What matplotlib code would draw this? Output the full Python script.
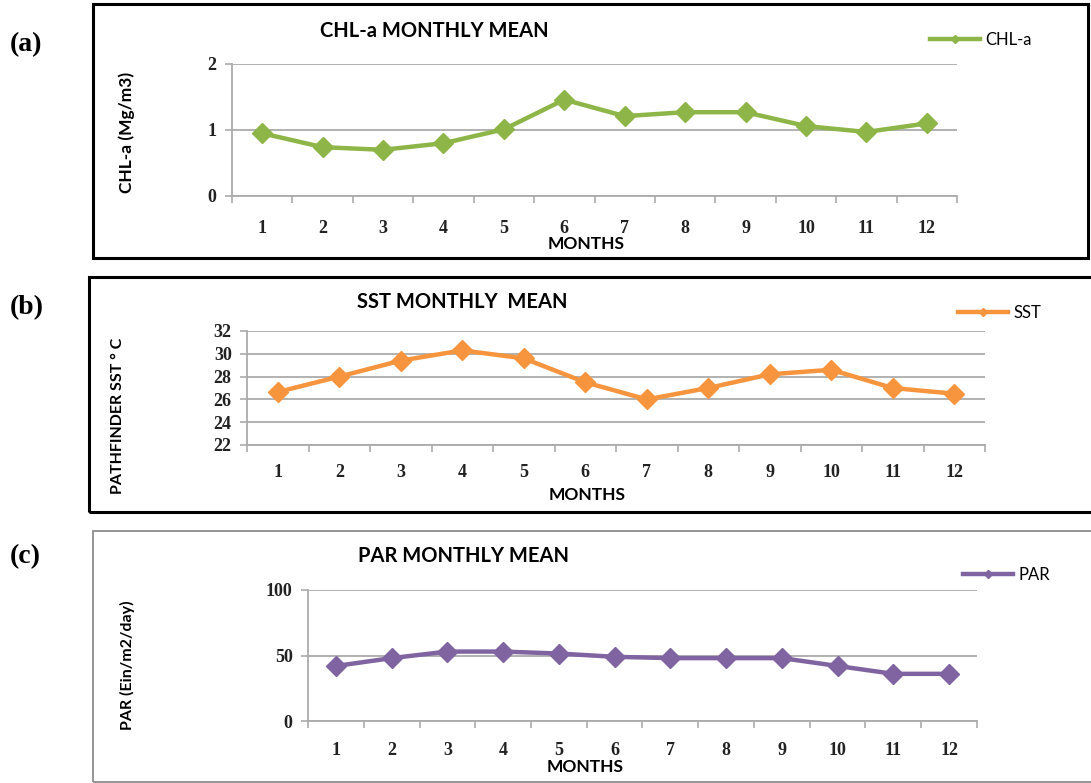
import matplotlib
matplotlib.use('Agg')
import matplotlib.pyplot as plt
from matplotlib.patches import Rectangle

# Data bulanan
months = [1, 2, 3, 4, 5, 6, 7, 8, 9, 10, 11, 12]
chl_a = [0.95, 0.74, 0.70, 0.80, 1.01, 1.46, 1.21, 1.27, 1.27, 1.06, 0.97, 1.10]
sst = [26.65, 28.0, 29.4, 30.3, 29.6, 27.5, 26.0, 27.0, 28.2, 28.6, 27.0, 26.5]
par = [42, 48, 53, 53, 51.5, 49, 48, 48, 48, 42, 36, 36]

W, H = 1091, 783
fig = plt.figure(figsize=(W / 100, H / 100), dpi=100)

SANS = 'Lato'
SERIF = 'Liberation Serif'
GRID = '#ababab'


def box(left, top, right, bottom):
    # koordinat piksel -> pecahan figure
    return [left / W, 1 - bottom / H, (right - left) / W, (bottom - top) / H]


def fx(x):
    return x / W


def fy(y):
    return 1 - y / H


def panel(rect, values, color, label, yticks, ylim, tick_pad):
    ax = fig.add_axes(box(*rect))
    ax.plot(months, values, color=color, lw=3.2, marker='D', ms=10,
            mec=color, mfc=color, label=label)
    ax.set_xlim(0.5, 12.5)
    ax.set_ylim(*ylim)
    ax.set_yticks(yticks)
    ax.set_xticks(months)
    ax.set_xticks([m + 0.5 for m in [0] + months], minor=True)
    ax.tick_params(axis='x', which='major', length=0, pad=tick_pad)
    ax.tick_params(axis='x', which='minor', length=5, color=GRID, width=1.2)
    ax.tick_params(axis='y', length=5, color=GRID, width=1.2, pad=6)
    for t in ax.get_xticklabels() + ax.get_yticklabels():
        t.set_fontfamily(SERIF)
        t.set_fontweight('bold')
        t.set_fontsize(13)
        t.set_color('#222222')
    ax.grid(axis='y', color=GRID, lw=1.3)
    ax.set_axisbelow(True)
    for s in ['top', 'right']:
        ax.spines[s].set_visible(False)
    for s in ['left', 'bottom']:
        ax.spines[s].set_color(GRID)
        ax.spines[s].set_linewidth(1.3)
    return ax


def legend(ax, x, y):
    ax.legend(loc='center left', bbox_to_anchor=(fx(x), fy(y)),
              bbox_transform=fig.transFigure, frameon=False,
              handlelength=3.0, handletextpad=0.3, markerscale=0.45,
              prop={'family': SANS, 'size': 12}, borderpad=0, borderaxespad=0)


# (a) CHL-a
ax1 = panel((232, 64, 957, 196), chl_a, '#8db548', 'CHL-a', [0, 1, 2], (0, 2), 17)
legend(ax1, 930, 40)
fig.text(fx(434), fy(31), 'CHL-a MONTHLY MEAN', ha='center', va='center',
         family=SANS, weight='bold', size=14.5)
fig.text(fx(127), fy(132), 'CHL-a (Mg/m3)', rotation=90, ha='center', va='center',
         family=SANS, weight='bold', size=12.5)
fig.text(fx(586), fy(244), 'MONTHS', ha='center', va='center',
         family=SANS, weight='bold', size=12.5)

# (b) SST
ax2 = panel((247, 331, 985, 445), sst, '#f7953f', 'SST', [22, 24, 26, 28, 30, 32], (22, 32), 14)
legend(ax2, 958, 313)
fig.text(fx(462), fy(302), 'SST MONTHLY  MEAN', ha='center', va='center',
         family=SANS, weight='bold', size=14.5)
fig.text(fx(118), fy(416), 'PATHFINDER SST \u00b0 C', rotation=90, ha='center', va='center',
         family=SANS, weight='bold', size=11.5)
fig.text(fx(587), fy(495), 'MONTHS', ha='center', va='center',
         family=SANS, weight='bold', size=12.5)

# (c) PAR
ax3 = panel((308, 590, 977, 721), par, '#8064a2', 'PAR', [0, 50, 100], (0, 100), 15)
legend(ax3, 963, 575)
fig.text(fx(464), fy(556), 'PAR MONTHLY MEAN', ha='center', va='center',
         family=SANS, weight='bold', size=14.5)
fig.text(fx(127), fy(665), 'PAR (Ein/m2/day)', rotation=90, ha='center', va='center',
         family=SANS, weight='bold', size=11.5)
fig.text(fx(585), fy(767), 'MONTHS', ha='center', va='center',
         family=SANS, weight='bold', size=12.5)

# bingkai panel
fig.add_artist(Rectangle((fx(93), fy(258)), fx(1088 - 93), (258 - 4) / H,
                         transform=fig.transFigure, fill=False, ec='black', lw=2.2))
fig.add_artist(Rectangle((fx(89), fy(512)), fx(1095 - 89), (512 - 277) / H,
                         transform=fig.transFigure, fill=False, ec='black', lw=2.2))
fig.add_artist(Rectangle((fx(93), fy(782)), fx(1095 - 93), (782 - 531) / H,
                         transform=fig.transFigure, fill=False, ec='#8c8c8c', lw=1.3))

# label panel
for lab, y in [('(a)', 45), ('(b)', 308), ('(c)', 557)]:
    fig.text(fx(10), fy(y), lab, ha='left', va='center',
             family=SERIF, weight='bold', size=20)

fig.savefig('out.png', dpi=100)
